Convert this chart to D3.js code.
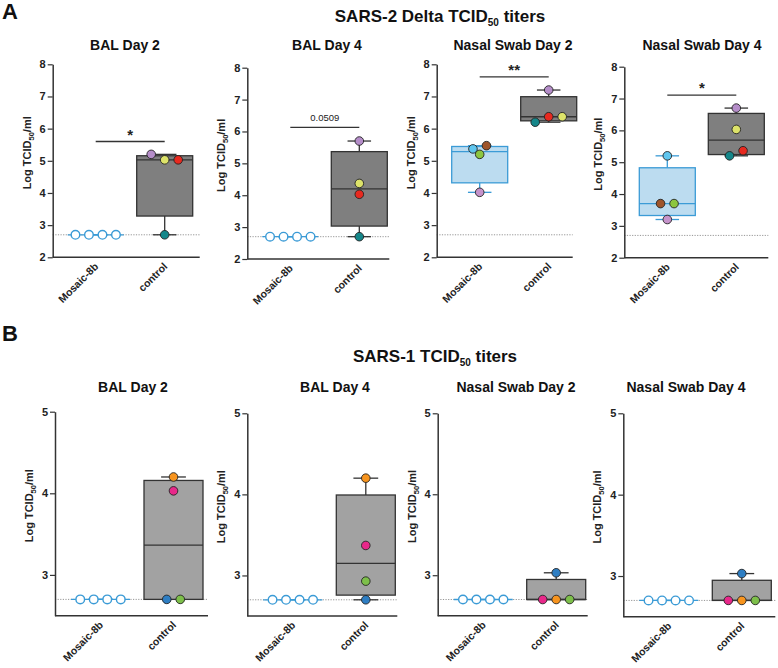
<!DOCTYPE html>
<html>
<head>
<meta charset="utf-8">
<script src="https://cdn.jsdelivr.net/npm/d3@7"></script>
<style>
  body { margin: 0; background: #fff; }
  svg { font-family: 'Liberation Sans', Arial, sans-serif; }
</style>
</head>
<body>
<svg width="778" height="668"></svg>
<script>
// ---- data ----
const groups = ['Mosaic-8b', 'control'];
const panelTitles = ['BAL Day 2', 'BAL Day 4', 'Nasal Swab Day 2', 'Nasal Swab Day 4'];
const ticksA = [2, 3, 4, 5, 6, 7, 8];
const ticksB = [3, 4, 5];
const lod = 2.7;

// SARS-2 Delta (row A)
const deltaMosaic = [
    [2.7, 2.7, 2.7, 2.7],
    [2.7, 2.7, 2.7, 2.7],
    [5.37, 5.47, 5.2, 4.02],
    [5.2, 3.7, 3.7, 3.2]
];
const deltaControl = [
    [5.2, 5.03, 5.03, 2.7],
    [5.7, 4.37, 4.03, 2.7],
    [7.2, 6.2, 6.37, 6.37],
    [6.7, 6.03, 5.2, 5.36]
];
const deltaSigY = [5.6, 6.13, 7.61, 7.11];
const deltaSigText = ['*', '0.0509', '**', '*'];

// SARS-1 (row B)
const sars1Mosaic = [
    [2.7, 2.7, 2.7, 2.7],
    [2.7, 2.7, 2.7, 2.7],
    [2.7, 2.7, 2.7, 2.7],
    [2.7, 2.7, 2.7, 2.7]
];
const sars1Control = [
    [4.2, 4.03, 2.7, 2.7],
    [4.2, 3.37, 2.93, 2.7],
    [3.03, 2.7, 2.7, 2.7],
    [3.03, 2.7, 2.7, 2.7]
];

// animal colours (one per point, same order as the values)
const purple = '#b58dc9', lime = '#dde36a', red = '#e8291f', teal = '#15878a';
const cyan = '#5fc6ef', brown = '#9f552b', green = '#8cc63f', lilac = '#c693cb';
const orange = '#f7941e', pink = '#e8288a', blue = '#2e7ec3', green2 = '#7dbf4a';

const deltaMosaicColors = [null, null, [cyan, brown, green, lilac], [cyan, brown, green, lilac]];
const deltaControlColors = [
    [purple, lime, red, teal],
    [purple, lime, red, teal],
    [purple, teal, red, lime],
    [purple, lime, teal, red]
];
const sars1MosaicColors = [null, null, null, null];
const sars1ControlColors = [
    [orange, pink, blue, green2],
    [orange, pink, green2, blue],
    [blue, pink, orange, green2],
    [blue, pink, orange, green2]
];

// ---- layout ----
const svg = d3.select('svg');

const layoutA = {
    x0: [52.7, 247.3, 436.7, 624.3],
    top: [64.3, 67.7, 64.3, 66.7],
    bottom: [257.3, 259, 257.3, 257.7],
    width: [147, 142, 136, 144],
    titleX: [125, 327, 513, 702],
    titleY: 50,
    centers: [43, 112],
    boxW: 56,
    domain: [2, 8],
    ticks: ticksA,
    grayFill: '#7f7f7f'
};
const layoutB = {
    x0: [55, 247.3, 437.7, 623.3],
    top: [411.7, 413.3, 413.3, 413.3],
    bottom: [615.7, 616, 615.7, 616.7],
    width: [153, 150, 150, 152],
    titleX: [133, 335, 516, 686],
    titleY: 391.7,
    centers: [45.5, 118.5],
    boxW: 59,
    domain: [2.5, 5],
    ticks: ticksB,
    grayFill: '#a2a2a2'
};

const axisColor = '#333';
const blueLine = '#3b9bd6';
const blueFill = '#bcdcf0';
const r = 4.3;
const swarmStep = 13.5;

// Prism-style quartiles: position p*(n+1)
const quart = (vals, p) => {
    const s = vals.slice().sort(d3.ascending);
    const n = s.length;
    const pos = p * (n + 1);
    const lo = Math.floor(pos);
    if (lo < 1) return s[0];
    if (lo >= n) return s[n - 1];
    return s[lo - 1] + (pos - lo) * (s[lo] - s[lo - 1]);
};

// points that overlap vertically share a row and get spread sideways
const swarm = (vals, yScale) => {
    const rows = [];
    const offsets = vals.map(() => 0);
    vals.forEach((v, i) => {
        const py = yScale(v);
        let row = rows.find((rw) => rw.every((j) => Math.abs(yScale(vals[j]) - py) < 7));
        if (!row) { row = []; rows.push(row); }
        row.push(i);
    });
    rows.forEach((rw) => {
        rw.forEach((i, k) => { offsets[i] = (k - (rw.length - 1) / 2) * swarmStep; });
    });
    return offsets;
};

const drawPanel = (L, i, mosaic, mosaicColors, control, controlColors, sigY, sigText) => {
    const g = svg.append('g').attr('transform', `translate(${L.x0[i]}, 0)`);
    const W = L.width[i];

    const yScale = d3.scaleLinear().domain(L.domain).range([L.bottom[i], L.top[i]]);
    const xScale = d3.scalePoint().domain(groups).range(L.centers);

    // limit of detection
    g.append('line')
        .attr('x1', 0).attr('x2', W)
        .attr('y1', yScale(lod)).attr('y2', yScale(lod))
        .attr('stroke', '#8a8a8a')
        .attr('stroke-width', 0.9)
        .attr('stroke-dasharray', '1.2,1.4');

    const series = [
        { key: groups[0], vals: mosaic, cols: mosaicColors, fill: blueFill, stroke: blueLine },
        { key: groups[1], vals: control, cols: controlColors, fill: L.grayFill, stroke: axisColor }
    ];

    series.forEach((s) => {
        const cx = xScale(s.key);
        const q1 = quart(s.vals, 0.25);
        const q3 = quart(s.vals, 0.75);
        const med = quart(s.vals, 0.5);
        const lo = d3.min(s.vals);
        const hi = d3.max(s.vals);
        const capW = L.boxW * 0.42;
        const sw = 1.3;

        // whiskers
        g.append('line')
            .attr('x1', cx).attr('x2', cx)
            .attr('y1', yScale(hi)).attr('y2', yScale(q3))
            .attr('stroke', s.stroke).attr('stroke-width', sw);
        g.append('line')
            .attr('x1', cx).attr('x2', cx)
            .attr('y1', yScale(q1)).attr('y2', yScale(lo))
            .attr('stroke', s.stroke).attr('stroke-width', sw);
        [hi, lo].forEach((v) => {
            g.append('line')
                .attr('x1', cx - capW / 2).attr('x2', cx + capW / 2)
                .attr('y1', yScale(v)).attr('y2', yScale(v))
                .attr('stroke', s.stroke).attr('stroke-width', sw);
        });

        // box
        g.append('rect')
            .attr('x', cx - L.boxW / 2)
            .attr('y', yScale(q3))
            .attr('width', L.boxW)
            .attr('height', Math.max(0, yScale(q1) - yScale(q3)))
            .attr('fill', s.fill)
            .attr('stroke', s.stroke)
            .attr('stroke-width', sw);
        g.append('line')
            .attr('x1', cx - L.boxW / 2).attr('x2', cx + L.boxW / 2)
            .attr('y1', yScale(med)).attr('y2', yScale(med))
            .attr('stroke', s.stroke).attr('stroke-width', sw);

        // points
        const offs = swarm(s.vals, yScale);
        g.selectAll(null)
            .data(s.vals)
            .enter()
            .append('circle')
            .attr('cx', (d, k) => cx + offs[k])
            .attr('cy', (d) => yScale(d))
            .attr('r', r)
            .attr('fill', (d, k) => (s.cols ? s.cols[k] : '#fff'))
            .attr('stroke', s.cols ? '#222' : blueLine)
            .attr('stroke-width', s.cols ? 0.9 : 1.4);
    });

    // significance bar
    if (sigText) {
        const ys = yScale(sigY);
        g.append('line')
            .attr('x1', xScale(groups[0])).attr('x2', xScale(groups[1]))
            .attr('y1', ys).attr('y2', ys)
            .attr('stroke', axisColor).attr('stroke-width', 1.3);
        const star = sigText.startsWith('*');
        g.append('text')
            .attr('x', (xScale(groups[0]) + xScale(groups[1])) / 2)
            .attr('y', star ? ys - 2 : ys - 6)
            .attr('text-anchor', 'middle')
            .attr('font-size', star ? 15 : 9.5)
            .attr('font-weight', star ? 'bold' : 'normal')
            .attr('fill', '#222')
            .text(sigText);
    }

    // y axis
    const yAxisG = g.append('g').call(
        d3.axisLeft(yScale).tickValues(L.ticks).tickSize(5).tickSizeOuter(0).tickFormat(d3.format('d'))
    );
    yAxisG.select('.domain').attr('stroke', axisColor).attr('stroke-width', 1.5);
    yAxisG.selectAll('.tick line').attr('stroke', axisColor).attr('stroke-width', 1.2);
    yAxisG.selectAll('.tick text')
        .attr('x', -7)
        .attr('font-size', 11)
        .attr('font-weight', 'bold')
        .attr('font-family', "'Liberation Sans', Arial, sans-serif")
        .attr('fill', '#222');

    // x axis
    g.append('line')
        .attr('x1', 0).attr('x2', W)
        .attr('y1', L.bottom[i]).attr('y2', L.bottom[i])
        .attr('stroke', axisColor).attr('stroke-width', 1.5);
    const xAxisG = g.append('g')
        .attr('transform', `translate(0, ${L.bottom[i]})`)
        .call(d3.axisBottom(xScale).tickSize(0));
    xAxisG.select('.domain').remove();
    xAxisG.selectAll('.tick text')
        .attr('x', -5)
        .attr('y', 9)
        .attr('dy', 0)
        .attr('transform', 'rotate(-45)')
        .style('text-anchor', 'end')
        .attr('font-size', 10.5)
        .attr('font-weight', 'bold')
        .attr('font-family', "'Liberation Sans', Arial, sans-serif")
        .attr('fill', '#222');

    // y label
    const midY = (L.top[i] + L.bottom[i]) / 2 - 8;
    const yl = g.append('text')
        .attr('transform', `translate(-22, ${midY}) rotate(-90)`)
        .attr('text-anchor', 'middle')
        .attr('font-size', 11)
        .attr('font-weight', 'bold')
        .attr('fill', '#222');
    yl.append('tspan').text('Log TCID');
    yl.append('tspan').attr('font-size', 7.5).attr('dy', 3).text('50');
    yl.append('tspan').attr('dy', -3).text('/ml');

    // panel title
    svg.append('text')
        .attr('x', L.titleX[i])
        .attr('y', L.titleY)
        .attr('text-anchor', 'middle')
        .attr('font-size', 14)
        .attr('font-weight', 'bold')
        .attr('fill', '#111')
        .text(panelTitles[i]);
};

panelTitles.forEach((t, i) => {
    drawPanel(layoutA, i, deltaMosaic[i], deltaMosaicColors[i], deltaControl[i], deltaControlColors[i], deltaSigY[i], deltaSigText[i]);
    drawPanel(layoutB, i, sars1Mosaic[i], sars1MosaicColors[i], sars1Control[i], sars1ControlColors[i], null, null);
});

// row titles and panel letters
const rowTitle = (x, y, pre, post) => {
    const t = svg.append('text')
        .attr('x', x).attr('y', y)
        .attr('text-anchor', 'middle')
        .attr('font-size', 17)
        .attr('font-weight', 'bold')
        .attr('fill', '#111');
    t.append('tspan').text(pre);
    t.append('tspan').attr('font-size', 10).attr('dy', 4).text('50');
    t.append('tspan').attr('dy', -4).text(post);
};
rowTitle(440, 21.7, 'SARS-2 Delta TCID', ' titers');
rowTitle(435, 361.7, 'SARS-1 TCID', ' titers');

svg.append('text').attr('x', 2).attr('y', 19)
    .attr('font-size', 22).attr('font-weight', 900).attr('fill', '#111').text('A');
svg.append('text').attr('x', 2).attr('y', 341)
    .attr('font-size', 22).attr('font-weight', 900).attr('fill', '#111').text('B');
</script>
</body>
</html>
